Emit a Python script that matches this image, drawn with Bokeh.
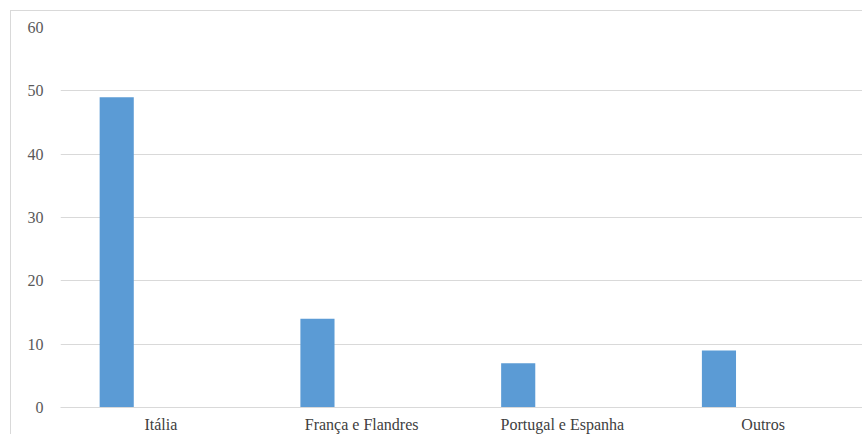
from bokeh.plotting import figure
from bokeh.models import FactorRange, Range1d
from bokeh.transform import dodge
from bokeh.embed import file_html
from bokeh.resources import INLINE

categories = ["Itália", "França e Flandres", "Portugal e Espanha", "Outros"]
values = [49, 14, 7, 9]
y_ticks = [0, 10, 20, 30, 40, 50, 60]

GREY = "#595959"
GRID = "#d9d9d9"

p = figure(
    x_range=FactorRange(*categories, range_padding=0),
    y_range=Range1d(0, 60),
    width=852, height=424,
    output_backend="svg", toolbar_location=None,
    min_border_left=49, min_border_right=0, min_border_top=16, min_border_bottom=27,
)
p.margin = (10, 0, 0, 10)
p.styles = {"border-top": "1px solid #d9d9d9", "border-left": "1px solid #d9d9d9"}
p.outline_line_color = None
p.background_fill_color = "white"
p.border_fill_color = "white"

p.vbar(x=dodge("cat", -0.22, range=p.x_range), top="val", width=0.17,
       source=dict(cat=categories, val=values), color="#5b9bd5", line_color=None)

p.xgrid.grid_line_color = None
p.ygrid.grid_line_color = GRID
p.ygrid.grid_line_width = 1.2
p.yaxis.ticker = y_ticks
p.yaxis.axis_line_color = None
p.yaxis.major_tick_line_color = None
p.yaxis.minor_tick_line_color = None
p.yaxis.major_tick_out = 0
p.yaxis.major_label_standoff = 17
p.yaxis.major_label_text_font = "serif"
p.yaxis.major_label_text_font_size = "16px"
p.yaxis.major_label_text_color = GREY

p.xaxis.axis_line_color = GRID
p.xaxis.axis_line_width = 1.2
p.xaxis.major_tick_line_color = None
p.xaxis.minor_tick_line_color = None
p.xaxis.major_tick_out = 0
p.xaxis.major_label_standoff = 8
p.xaxis.major_label_text_font = "serif"
p.xaxis.major_label_text_font_size = "16px"
p.xaxis.major_label_text_color = "#404040"

open("out.html", "w").write(file_html(p, INLINE))
